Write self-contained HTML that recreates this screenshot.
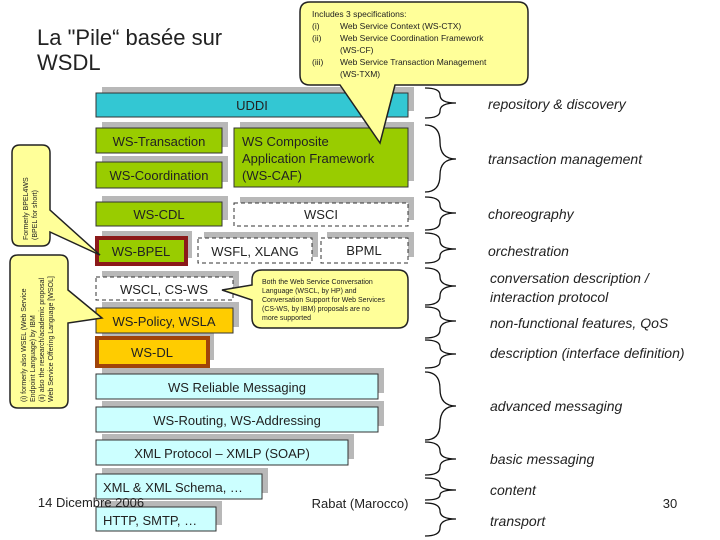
<!DOCTYPE html>
<html><head><meta charset="utf-8"><style>
body{margin:0;background:#fff}
svg{display:block;font-family:"Liberation Sans",sans-serif}
</style></head><body>
<svg width="720" height="540" viewBox="0 0 720 540" xmlns="http://www.w3.org/2000/svg">
<rect width="720" height="540" fill="#fff"/>
<text x="37" y="45" font-size="22" fill="#222">La "Pile“ basée sur</text>
<text x="37" y="70" font-size="22" fill="#222">WSDL</text>

<g stroke="#333" stroke-width="1">
<!-- shadows -->
<g fill="#b8b8b8" stroke="none">
<rect x="102" y="87" width="312" height="24"/>
<rect x="102" y="122" width="126" height="25"/>
<rect x="102" y="156" width="126" height="26"/>
<rect x="240" y="122" width="174" height="59"/>
<rect x="102" y="196" width="126" height="24"/>
<rect x="240" y="197" width="174" height="23"/>
<rect x="102" y="231" width="90" height="27"/>
<rect x="204" y="232" width="114" height="25"/>
<rect x="327" y="232" width="87" height="25"/>
<rect x="102" y="271" width="137" height="23"/>
<rect x="102" y="302" width="137" height="25"/>
<rect x="102" y="331" width="112" height="29"/>
<rect x="102" y="368" width="282" height="25"/>
<rect x="102" y="401" width="282" height="25"/>
<rect x="102" y="434" width="252" height="25"/>
<rect x="102" y="468" width="166" height="25"/>
<rect x="102" y="501" width="120" height="24"/>
</g>
<rect x="96" y="93" width="312" height="24" fill="#33c7d3"/>
<rect x="96" y="128" width="126" height="25" fill="#99cc00"/>
<rect x="96" y="162" width="126" height="26" fill="#99cc00"/>
<rect x="234" y="128" width="174" height="59" fill="#99cc00"/>
<rect x="96" y="202" width="126" height="24" fill="#99cc00"/>
<rect x="234" y="203" width="174" height="23" fill="#fff" stroke-dasharray="4,3"/>
<rect x="97" y="238" width="89" height="26" fill="#99cc00" stroke="#8b1a1a" stroke-width="4"/>
<rect x="198" y="238" width="114" height="25" fill="#fff" stroke-dasharray="4,3"/>
<rect x="321" y="238" width="87" height="25" fill="#fff" stroke-dasharray="4,3"/>
<rect x="96" y="277" width="137" height="23" fill="#fff" stroke-dasharray="4,3"/>
<rect x="96" y="308" width="137" height="25" fill="#ffcc00"/>
<rect x="97" y="338" width="111" height="28" fill="#ffcc00" stroke="#a0440a" stroke-width="4"/>
<rect x="96" y="374" width="282" height="25" fill="#ccffff"/>
<rect x="96" y="407" width="282" height="25" fill="#ccffff"/>
<rect x="96" y="440" width="252" height="25" fill="#ccffff"/>
<rect x="96" y="474" width="166" height="25" fill="#ccffff"/>
<rect x="96" y="507" width="120" height="24" fill="#ccffff"/>
</g>
<g font-size="13" fill="#222" text-anchor="middle">
<text x="252" y="110">UDDI</text>
<text x="159" y="146">WS-Transaction</text>
<text x="159" y="180">WS-Coordination</text>
<text x="242" y="146" text-anchor="start">WS Composite</text>
<text x="242" y="163" text-anchor="start">Application Framework</text>
<text x="242" y="180" text-anchor="start">(WS-CAF)</text>
<text x="159" y="219">WS-CDL</text>
<text x="321" y="219">WSCI</text>
<text x="141" y="256">WS-BPEL</text>
<text x="255" y="256">WSFL, XLANG</text>
<text x="364" y="255">BPML</text>
<text x="164" y="294">WSCL, CS-WS</text>
<text x="164" y="326">WS-Policy, WSLA</text>
<text x="152" y="357">WS-DL</text>
<text x="237" y="392">WS Reliable Messaging</text>
<text x="237" y="425">WS-Routing, WS-Addressing</text>
<text x="222" y="458">XML Protocol – XMLP (SOAP)</text>
<text x="103" y="492" text-anchor="start">XML &amp; XML Schema, …</text>
<text x="103" y="525" text-anchor="start">HTTP, SMTP, …</text>
<text x="91" y="507">14 Dicembre 2006</text>
<text x="360" y="508">Rabat (Marocco)</text>
<text x="670" y="508">30</text>
</g>

<!-- callouts -->
<g fill="#ffff99" stroke="#222" stroke-width="1.5">
<path d="M310,2 H518 Q528,2 528,12 V75 Q528,85 518,85 H395 L380,143 L340,85 H310 Q300,85 300,75 V12 Q300,2 310,2 Z"/>
<path d="M262,270 H398 Q408,270 408,280 V318 Q408,328 398,328 H262 Q252,328 252,318 V300 L222,290 L252,285 V280 Q252,270 262,270 Z"/>
<path d="M20,145 H42 Q50,145 50,153 V210 L100,255 L50,232 V238 Q50,246 42,246 H20 Q12,246 12,238 V153 Q12,145 20,145 Z"/>
<path d="M18,255 H60 Q68,255 68,263 V290 L102,318 L68,323 V400 Q68,408 60,408 H18 Q10,408 10,400 V263 Q10,255 18,255 Z"/>
</g>
<g font-size="8.5" fill="#222">
<text x="312" y="17">Includes 3 specifications:</text>
<text x="312" y="29">(i)</text><text x="340" y="29">Web Service Context (WS-CTX)</text>
<text x="312" y="41">(ii)</text><text x="340" y="41">Web Service Coordination Framework</text>
<text x="340" y="53">(WS-CF)</text>
<text x="312" y="65">(iii)</text><text x="340" y="65">Web Service Transaction Management</text>
<text x="340" y="77">(WS-TXM)</text>
</g>
<g font-size="7" fill="#222">
<text x="262" y="284">Both the Web Service Conversation</text>
<text x="262" y="293">Language (WSCL, by HP) and</text>
<text x="262" y="302">Conversation Support for Web Services</text>
<text x="262" y="311">(CS-WS, by IBM) proposals are no</text>
<text x="262" y="320">more supported</text>
</g>
<g font-size="7" fill="#222" transform="rotate(-90)">
<text x="-240" y="28">Formerly BPEL4WS</text>
<text x="-240" y="37">(BPEL for short)</text>
<text x="-402" y="26">(i) formerly also WSEL (Web Service</text>
<text x="-402" y="35">Endpoint Language) by IBM</text>
<text x="-402" y="44">(ii) also the research/academic proposal</text>
<text x="-402" y="53">Web Service Offering Language [WSOL]</text>
</g>

<!-- braces -->
<g fill="none" stroke="#111" stroke-width="1.3">
<path d="M425,88 Q440,88 440,95 Q440,103 456,103 Q440,103 440,111 Q440,118 425,118"/>
<path d="M425,125 Q440,125 440,142 Q440,159 456,159 Q440,159 440,175 Q440,192 425,192"/>
<path d="M425,197 Q440,197 440,205 Q440,213 456,213 Q440,213 440,222 Q440,230 425,230"/>
<path d="M425,233 Q440,233 440,241 Q440,249 456,249 Q440,249 440,256 Q440,263 425,263"/>
<path d="M425,268 Q440,268 440,277 Q440,286 456,286 Q440,286 440,296 Q440,305 425,305"/>
<path d="M425,307 Q440,307 440,314 Q440,321 456,321 Q440,321 440,330 Q440,338 425,338"/>
<path d="M425,340 Q440,340 440,347 Q440,354 456,354 Q440,354 440,362 Q440,368 425,368"/>
<path d="M425,372 Q440,372 440,389 Q440,406 456,406 Q440,406 440,424 Q440,440 425,440"/>
<path d="M425,442 Q440,442 440,451 Q440,459 456,459 Q440,459 440,467 Q440,475 425,475"/>
<path d="M425,478 Q440,478 440,484 Q440,490 456,490 Q440,490 440,495 Q440,500 425,500"/>
<path d="M425,503 Q440,503 440,511 Q440,519 456,519 Q440,519 440,528 Q440,536 425,536"/>
</g>
<g font-size="14" font-style="italic" fill="#222">
<text x="488" y="109">repository &amp; discovery</text>
<text x="488" y="164">transaction management</text>
<text x="488" y="219">choreography</text>
<text x="488" y="256">orchestration</text>
<text x="490" y="283">conversation description /</text>
<text x="490" y="302">interaction protocol</text>
<text x="490" y="328">non-functional features, QoS</text>
<text x="490" y="358">description (interface definition)</text>
<text x="490" y="411">advanced messaging</text>
<text x="490" y="464">basic messaging</text>
<text x="490" y="495">content</text>
<text x="490" y="526">transport</text>
</g>
</svg>
</body></html>
